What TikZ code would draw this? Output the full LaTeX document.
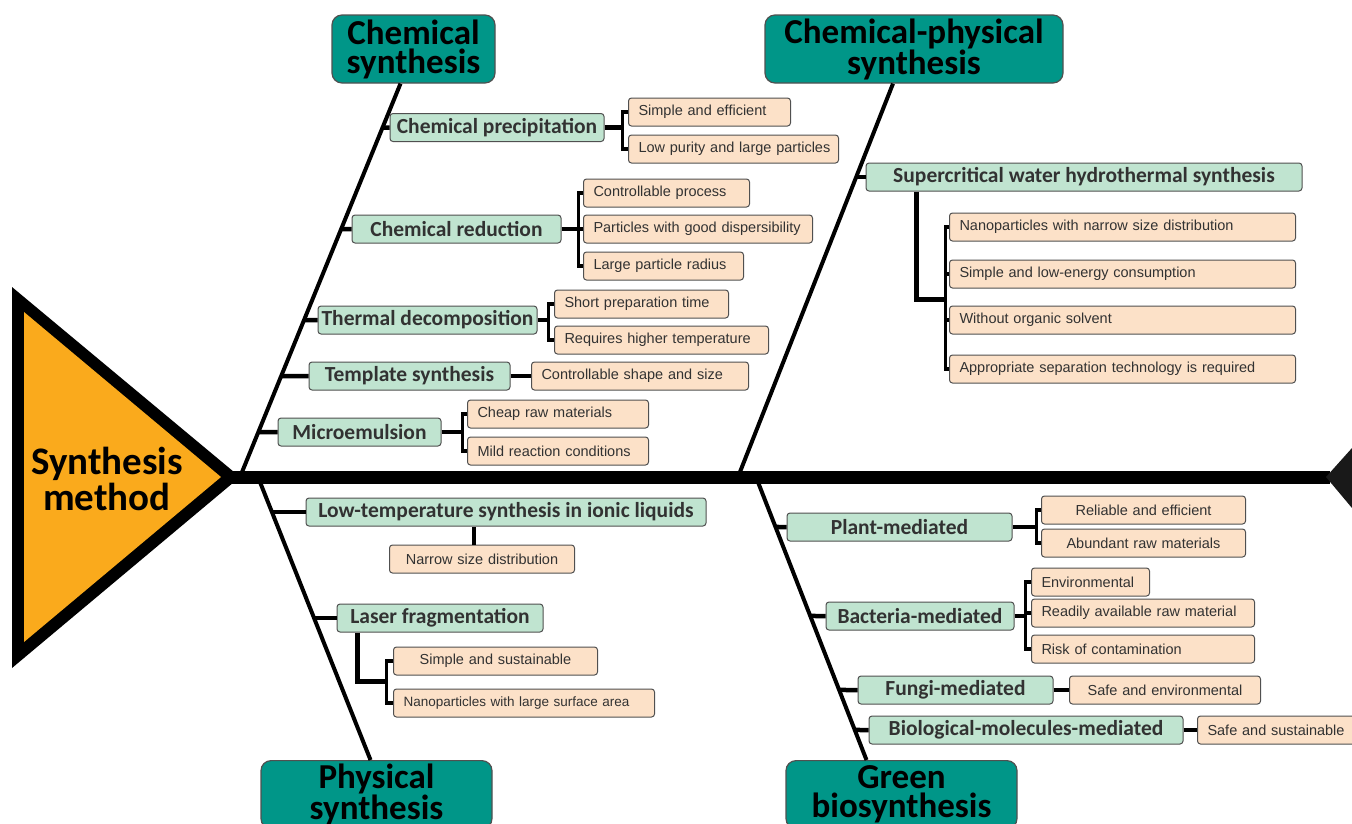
\documentclass[tikz,border=0pt]{standalone}
\usepackage{fontspec}
\setmainfont{Liberation Sans}
\newfontfamily\calfont{Carlito}

\definecolor{amber}{RGB}{250,170,28}
\definecolor{headteal}{RGB}{0,150,136}
\definecolor{mint}{RGB}{192,228,208}
\definecolor{peach}{RGB}{252,225,200}
\definecolor{edge}{RGB}{80,80,80}
\definecolor{ink}{RGB}{50,50,50}

\begin{document}
\begin{tikzpicture}[
  x=1pt, y=-1pt,
  head/.style={draw=edge, line width=1.2pt, fill=headteal, rounded corners=10pt,
    align=center, minimum width=#1, minimum height=68pt, inner sep=0pt,
    font=\calfont\bfseries\fontsize{35}{29}\selectfont},
  cause/.style={draw=edge, line width=1pt, fill=mint, rounded corners=3pt,
    minimum width=#1, minimum height=28pt, inner sep=0pt, text=ink,
    font=\calfont\bfseries\fontsize{21.5}{22}\selectfont},
  note/.style={draw=edge, line width=1pt, fill=peach, rounded corners=3pt,
    anchor=west, text width=#1, align=left, inner xsep=10pt, inner ysep=0pt,
    minimum height=28pt, text=ink, font=\fontsize{14.5}{16}\selectfont,
    execute at begin node={\hbox\bgroup}, execute at end node={\egroup}},
  bone/.style={line width=4pt},
  twig/.style={line width=4.5pt},
  tick/.style={line width=3.5pt}
]
\useasboundingbox (0,0) rectangle (1352,823);

% Head
\fill[black] (12,287) -- (240,477) -- (12,668) -- cycle;
\fill[amber] (24,312) -- (221,477) -- (24,642) -- cycle;
\node[align=center, font=\calfont\bfseries\fontsize{39}{36}\selectfont] (head) at (107,479) {Synthesis\\method};

% Spine
\coordinate (tip) at (232,477);
\coordinate (tail) at (1330,477);
\draw[line width=13pt] (tip) -- (tail);
\fill[black!90] (1326,477) -- (1352,448) -- (1352,508) -- cycle;

% Categories
\node[head=163pt] (chem) at (413.5,49) {Chemical\\synthesis};
\node[head=298pt] (chph) at (914,49) {Chemical-physical\\synthesis};
\node[head=231pt, anchor=north] (phys) at (376.5,760) {Physical\\synthesis};
\node[head=231pt, anchor=north] (green) at (901.5,760) {Green\\biosynthesis};

% Bones
\coordinate (ctop) at ([xshift=-13pt]chem.south);
\coordinate (cptop) at ([xshift=-21pt]chph.south);
\coordinate (pbot) at ([xshift=-6pt]phys.north);
\coordinate (gbot) at ([xshift=-35pt]green.north);
\coordinate (cj) at (240,477);
\coordinate (cpj) at (738,477);
\coordinate (pj) at (258,477);
\coordinate (gj) at (756,477);
\draw[bone] (ctop) -- (cj);
\draw[bone] (cptop) -- (cpj);
\draw[bone] (pj) -- (pbot);
\draw[bone] (gj) -- (gbot);

% Chemical synthesis
\node[cause=214pt] (prec) at (497,127.5) {Chemical precipitation};
\node[note=142pt] (pr1) at (628,112) {Simple and efficient};
\node[note=190pt] (pr2) at (628,149) {Low purity and large particles};
\node[cause=209pt] (cred) at (456.5,229) {Chemical reduction};
\node[note=146pt] (cr1) at (583,193) {Controllable process};
\node[note=209pt] (cr2) at (583,229) {Particles with good dispersibility};
\node[note=140pt] (cr3) at (583,266) {Large particle radius};
\node[cause=219pt] (thd) at (427.5,320) {Thermal decomposition};
\node[note=154pt] (td1) at (554,304) {Short preparation time};
\node[note=194pt] (td2) at (554,340) {Requires higher temperature};
\node[cause=201pt] (tmp) at (409.5,376) {Template synthesis};
\node[note=197pt] (tp1) at (531,376) {Controllable shape and size};
\node[cause=163pt] (mic) at (359.5,432) {Microemulsion};
\node[note=161pt] (mi1) at (467,414) {Cheap raw materials};
\node[note=161pt] (mi2) at (467,451) {Mild reaction conditions};

\foreach \b in {prec,cred,thd,tmp,mic}
  \draw[twig] (\b.west) -- (intersection of \b.west--\b.east and ctop--cj);
\draw[twig] (prec.east) -- ++(18,0) coordinate (kpr);
\draw[tick] (pr1.west) -| (kpr) |- (pr2.west);
\draw[twig] (cred.east) -- ++(17,0) coordinate (kcr);
\draw[tick] (cr1.west) -| (kcr) |- (cr3.west);
\draw[tick] (cr2.west) -- (kcr);
\draw[twig] (thd.east) -- ++(11,0) coordinate (ktd);
\draw[tick] (td1.west) -| (ktd) |- (td2.west);
\draw[twig] (tmp.east) -- (tp1.west);
\draw[twig] (mic.east) -- ++(21,0) coordinate (kmi);
\draw[tick] (mi1.west) -| (kmi) |- (mi2.west);

% Chemical-physical synthesis
\node[cause=436pt] (scw) at (1084,177) {Supercritical water hydrothermal synthesis};
\node[note=326pt] (sw1) at (949,227) {Nanoparticles with narrow size distribution};
\node[note=326pt] (sw2) at (949,274) {Simple and low-energy consumption};
\node[note=326pt] (sw3) at (949,320) {Without organic solvent};
\node[note=326pt] (sw4) at (949,369) {Appropriate separation technology is required};

\draw[twig] (scw.west) -- (intersection of scw.west--scw.east and cptop--cpj);
\draw[twig] ([xshift=51pt]scw.south west) -- ++(0,108) -- ++(29,0) coordinate (ksw);
\draw[tick] (sw1.west) -| (ksw) |- (sw4.west);
\draw[tick] (sw2.west) -- (sw2.west -| ksw);
\draw[tick] (sw3.west) -- (sw3.west -| ksw);

% Physical synthesis
\node[cause=400pt] (ltil) at (506,512) {Low-temperature synthesis in ionic liquids};
\node[note=165pt, align=center] (lt1) at (389,559) {Narrow size distribution};
\node[cause=206pt] (laser) at (440,618) {Laser fragmentation};
\node[note=184pt, align=center] (lf1) at (393,661) {Simple and sustainable};
\node[note=241pt, font=\fontsize{13.5}{15}\selectfont] (lf2) at (393,703) {Nanoparticles with large surface area};

\foreach \b in {ltil,laser}
  \draw[twig] (\b.west) -- (intersection of \b.west--\b.east and pj--pbot);
\draw[twig] ([xshift=-8pt]lt1.north) -- ([xshift=-8pt]lt1.north |- ltil.south);
\draw[twig] ([xshift=21pt]laser.south west) -- ++(0,49) -- ++(29,0) coordinate (klf);
\draw[tick] (lf1.west) -| (klf) |- (lf2.west);

% Green biosynthesis
\node[cause=225pt] (plant) at (899.5,527) {Plant-mediated};
\node[note=184pt, align=center] (pl1) at (1041,510) {Reliable and efficient};
\node[note=184pt, align=center] (pl2) at (1041,543) {Abundant raw materials};
\node[cause=188pt] (bact) at (920,616) {Bacteria-mediated};
\node[note=98pt] (ba1) at (1031,582) {Environmental};
\node[note=203pt] (ba2) at (1031,613) {Readily available raw material};
\node[note=203pt] (ba3) at (1031,649) {Risk of contamination};
\node[cause=195pt] (fungi) at (955.5,690) {Fungi-mediated};
\node[note=171pt, align=center] (fu1) at (1069,690) {Safe and environmental};
\node[cause=314pt] (bio) at (1026,730) {Biological-molecules-mediated};
\node[note=150pt] (bi1) at (1197,730) {Safe and sustainable};

\foreach \b in {plant,bact,fungi,bio}
  \draw[twig] (\b.west) -- (intersection of \b.west--\b.east and gj--gbot);
\draw[twig] (plant.east) -- ++(24,0) coordinate (kpl);
\draw[tick] (pl1.west) -| (kpl) |- (pl2.west);
\draw[twig] (bact.east) -- ++(11,0) coordinate (kba);
\draw[tick] (ba1.west) -| (kba) |- (ba3.west);
\draw[tick] (ba2.west) -- (ba2.west -| kba);
\draw[twig] (fungi.east) -- (fu1.west);
\draw[twig] (bio.east) -- (bi1.west);

\end{tikzpicture}
\end{document}
